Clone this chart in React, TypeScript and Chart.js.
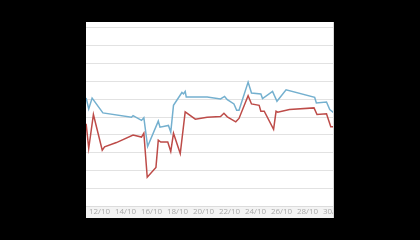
import React, { useEffect, useRef } from "react";
import { Chart, registerables } from "chart.js";

Chart.register(...registerables);

const tickDays = [12, 14, 16, 18, 20, 22, 24, 26, 28, 30];

const blueDays = [10.97, 11.17, 11.43, 12.26, 14.46, 14.58, 15.23, 15.41, 15.7, 16.52, 16.65, 17.3, 17.48, 17.69, 18.34, 18.46, 18.59, 18.67, 20.28, 21.31, 21.62, 21.83, 22.34, 22.55, 22.73, 23.43, 23.69, 24.41, 24.54, 25.31, 25.65, 26.35, 28.55, 28.68, 29.46, 29.71, 30.1];
const blueValues = [60.6, 54.5, 60.6, 52.3, 49.9, 50.8, 48.1, 49.6, 33.5, 47.7, 44.3, 45.3, 41.6, 56.5, 63.7, 62.9, 64.3, 61.2, 61.2, 60.1, 61.5, 59.7, 57.3, 53.8, 53.8, 69.5, 63.4, 62.9, 60.3, 64.3, 58.8, 65.2, 61.0, 57.9, 58.4, 54.2, 51.9];

const redDays = [10.97, 11.17, 11.53, 12.21, 12.39, 13.3, 14.58, 15.23, 15.41, 15.67, 16.34, 16.52, 16.71, 17.25, 17.48, 17.69, 18.21, 18.59, 19.37, 20.28, 21.31, 21.57, 21.83, 22.48, 22.73, 23.43, 23.69, 24.28, 24.41, 24.67, 25.39, 25.58, 25.71, 26.61, 28.5, 28.73, 29.46, 29.79, 30.1];
const redValues = [46.2, 32.5, 51.4, 31.4, 33.3, 35.7, 39.9, 38.8, 41.0, 16.3, 21.8, 37.0, 36.0, 36.0, 30.7, 40.9, 29.6, 52.9, 48.8, 49.9, 50.3, 52.1, 50.1, 47.3, 49.2, 61.9, 57.3, 56.5, 53.2, 53.2, 43.1, 53.2, 52.7, 54.2, 55.1, 51.4, 51.8, 44.6, 44.6];

const stripPlugin = {
  id: "strip",
  beforeDraw(chart: any) {
    const { ctx, chartArea, width, height } = chart;
    ctx.save();
    ctx.fillStyle = "#f3f3f3";
    ctx.fillRect(0, chartArea.bottom, width, height - chartArea.bottom);
    ctx.restore();
  },
};

export default function App() {
  const ref = useRef<HTMLCanvasElement | null>(null);
  useEffect(() => {
    if (!ref.current) return;
    const chart = new Chart(ref.current, {
      type: "line",
      data: {
        datasets: [
          {
            data: blueDays.map((d, i) => ({ x: d, y: blueValues[i] })),
            borderColor: "#74b0cf",
            borderWidth: 1.5,
            pointRadius: 0,
            tension: 0,
            fill: false,
          },
          {
            data: redDays.map((d, i) => ({ x: d, y: redValues[i] })),
            borderColor: "#bd4b48",
            borderWidth: 1.5,
            pointRadius: 0,
            tension: 0,
            fill: false,
          },
        ],
      },
      options: {
        animation: false,
        responsive: false,
        layout: { padding: { top: 5.6, left: 0, right: 0, bottom: 0 } },
        plugins: { legend: { display: false }, tooltip: { enabled: false } },
        scales: {
          x: {
            type: "linear",
            min: 10.96,
            max: 10.96 + 270 / 13,
            afterBuildTicks: (scale: any) => {
              scale.ticks = tickDays.map((v) => ({ value: v }));
            },
            grid: { display: false, drawTicks: false },
            border: { display: true, color: "#dcdcdc" },
            ticks: {
              autoSkip: false,
              maxRotation: 0,
              padding: 1,
              color: "#a8a8a8",
              font: { size: 8, family: "Open Sans" },
              callback: (v: any) => `${v}/10`,
            },
          },
          y: {
            min: 0,
            max: 100,
            ticks: { display: false, stepSize: 10 },
            grid: { color: "#e2e2e2", drawTicks: false },
            border: { display: false },
          },
        },
      },
      plugins: [stripPlugin],
    });
    return () => chart.destroy();
  }, []);

  return (
    <div style={{ position: "fixed", left: 0, top: 0, width: 420, height: 240, background: "#000" }}>
      <div
        style={{
          position: "absolute",
          left: 86,
          top: 22,
          width: 247,
          height: 196,
          overflow: "hidden",
          background: "#fff",
          borderRight: "1px solid #d8d8d8",
        }}
      >
        <canvas ref={ref} width={270} height={196} style={{ display: "block" }} />
      </div>
    </div>
  );
}
